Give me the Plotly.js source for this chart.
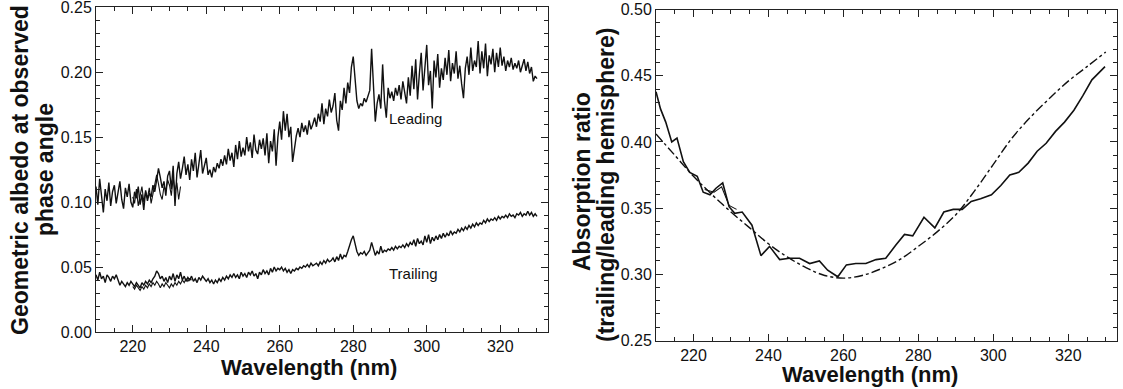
<!DOCTYPE html>
<html>
<head>
<meta charset="utf-8">
<script src="https://cdn.plot.ly/plotly-3.0.1.min.js"></script>
<style>
  html, body { margin: 0; padding: 0; background: #fff; }
  #chart { width: 1123px; height: 389px; }
</style>
</head>
<body>
<div id="chart"></div>
<script>
// Left panel: geometric albedo spectra, sampled every 0.5 nm from 210 nm
const specStart = 210;
const specStep = 0.5;
const leading = [
  0.112, 0.098, 0.118, 0.104, 0.092, 0.110, 0.101, 0.115, 0.097, 0.108,
  0.113, 0.099, 0.109, 0.116, 0.102, 0.095, 0.111, 0.104, 0.114, 0.100,
  0.096, 0.108, 0.103, 0.112, 0.098, 0.106, 0.094, 0.109, 0.101, 0.107,
  0.104, 0.113, 0.108, 0.118, 0.126, 0.119, 0.111, 0.116, 0.105, 0.120,
  0.124, 0.110, 0.128, 0.097, 0.122, 0.131, 0.118, 0.126, 0.135, 0.121,
  0.129, 0.117, 0.133, 0.124, 0.138, 0.119, 0.131, 0.140, 0.122, 0.128,
  0.134, 0.121, 0.125, 0.119, 0.127, 0.123, 0.130, 0.126, 0.133, 0.128,
  0.136, 0.129, 0.141, 0.132, 0.138, 0.127, 0.144, 0.133, 0.147, 0.135,
  0.142, 0.136, 0.150, 0.139, 0.146, 0.134, 0.152, 0.140, 0.137, 0.148,
  0.141, 0.149, 0.136, 0.153, 0.130, 0.147, 0.139, 0.156, 0.128, 0.150,
  0.162, 0.148, 0.170, 0.155, 0.168, 0.150, 0.158, 0.131, 0.142, 0.151,
  0.157, 0.150, 0.161, 0.154, 0.159, 0.152, 0.163, 0.156, 0.160, 0.165,
  0.158, 0.168, 0.162, 0.176, 0.160, 0.172, 0.166, 0.179, 0.169, 0.174,
  0.184, 0.163, 0.155, 0.178, 0.171, 0.188, 0.176, 0.192, 0.184, 0.204,
  0.212, 0.196, 0.178, 0.172, 0.176, 0.174, 0.180, 0.177, 0.182, 0.186,
  0.218, 0.190, 0.162, 0.176, 0.183, 0.172, 0.206, 0.178, 0.165, 0.188,
  0.180, 0.185, 0.178, 0.188, 0.182, 0.190, 0.179, 0.193, 0.184, 0.176,
  0.196, 0.182, 0.205, 0.187, 0.210, 0.179, 0.199, 0.215, 0.186, 0.206,
  0.221, 0.190, 0.201, 0.172, 0.209, 0.196, 0.214, 0.188, 0.203, 0.194,
  0.211, 0.198, 0.217, 0.193, 0.207, 0.199, 0.216, 0.195, 0.205, 0.191,
  0.180, 0.203, 0.212, 0.198, 0.219, 0.201, 0.209, 0.204, 0.224, 0.199,
  0.216, 0.203, 0.222, 0.197, 0.213, 0.206, 0.218, 0.200, 0.215, 0.204,
  0.219, 0.205, 0.212, 0.201, 0.209, 0.204, 0.211, 0.202, 0.207, 0.203,
  0.209, 0.200, 0.206, 0.210, 0.201, 0.208, 0.199, 0.204, 0.193, 0.197,
  0.195
];
const trailing = [
  0.044, 0.040, 0.046, 0.041, 0.043, 0.038, 0.044, 0.042, 0.039, 0.043,
  0.041, 0.044, 0.040, 0.036, 0.039, 0.037, 0.035, 0.038, 0.036, 0.039,
  0.037, 0.035, 0.038, 0.036, 0.034, 0.038, 0.036, 0.039, 0.037, 0.040,
  0.038, 0.041, 0.043, 0.047, 0.045, 0.041, 0.043, 0.039, 0.042, 0.038,
  0.043, 0.040, 0.045, 0.039, 0.044, 0.041, 0.046, 0.040, 0.043, 0.039,
  0.042, 0.040, 0.043, 0.039, 0.041, 0.038, 0.042, 0.040, 0.043, 0.041,
  0.039, 0.041, 0.038, 0.040, 0.037, 0.040, 0.038, 0.041, 0.039, 0.042,
  0.040, 0.043, 0.041, 0.044, 0.042, 0.045, 0.042, 0.044, 0.041, 0.046,
  0.043, 0.045, 0.042, 0.046, 0.044, 0.047, 0.043, 0.045, 0.041, 0.046,
  0.044, 0.048, 0.045, 0.047, 0.044, 0.049, 0.046, 0.050, 0.047, 0.049,
  0.048, 0.050, 0.047, 0.049, 0.046, 0.048, 0.045, 0.048, 0.047, 0.049,
  0.048, 0.050, 0.049, 0.051, 0.050, 0.052, 0.050, 0.053, 0.051, 0.052,
  0.053, 0.051, 0.054, 0.052, 0.055, 0.053, 0.056, 0.054, 0.055, 0.057,
  0.054, 0.058, 0.055, 0.060, 0.056, 0.059, 0.058, 0.062, 0.067, 0.071,
  0.074, 0.068, 0.062, 0.059, 0.061, 0.060, 0.062, 0.059, 0.061, 0.063,
  0.069, 0.064, 0.059, 0.062, 0.060, 0.066, 0.061, 0.063, 0.062, 0.064,
  0.063, 0.065, 0.063, 0.066, 0.064, 0.066, 0.065, 0.067, 0.065, 0.068,
  0.066, 0.069, 0.067, 0.071, 0.066, 0.072, 0.068, 0.070, 0.067, 0.074,
  0.069, 0.075, 0.068, 0.073, 0.070, 0.074, 0.071, 0.075, 0.072, 0.076,
  0.073, 0.076, 0.074, 0.078, 0.075, 0.077, 0.076, 0.079, 0.077, 0.080,
  0.078, 0.081, 0.079, 0.082, 0.080, 0.083, 0.081, 0.084, 0.082, 0.084,
  0.083, 0.086, 0.084, 0.087, 0.085, 0.087, 0.086, 0.088, 0.086, 0.089,
  0.087, 0.089, 0.088, 0.090, 0.088, 0.091, 0.089, 0.090, 0.088, 0.091,
  0.090, 0.092, 0.089, 0.091, 0.090, 0.093, 0.090, 0.092, 0.089, 0.091,
  0.089
];
// Overlapping second exposures in the short-wavelength end
const leadingBStart = 220;
const leadingB = [
  0.104, 0.099, 0.110, 0.097, 0.105, 0.112, 0.100, 0.108, 0.103, 0.111,
  0.099, 0.107, 0.115, 0.121, 0.114, 0.106, 0.102, 0.112, 0.109, 0.117,
  0.113, 0.105, 0.119, 0.108, 0.115, 0.102, 0.112
];
const trailingBStart = 220;
const trailingB = [
  0.035, 0.033, 0.036, 0.034, 0.032, 0.035, 0.033, 0.036, 0.034, 0.037,
  0.035, 0.038, 0.036, 0.039, 0.037, 0.034, 0.037, 0.035, 0.038, 0.036,
  0.034, 0.037, 0.035, 0.038, 0.036, 0.039, 0.037, 0.040, 0.038, 0.041,
  0.039, 0.041, 0.040
];

// Right panel: measured absorption ratio and model curve
const ratioWl = [
  210, 211.2, 212.6, 214.2, 215.6, 217.3, 219, 221, 222.6, 224.4,
  226, 227.8, 229.5, 231, 233, 235.6, 238, 240.3, 243, 245.6,
  248.3, 251, 253.6, 255.8, 258.5, 260.8, 263.3, 266, 268.7, 271.3,
  274, 276.3, 278.5, 281.5, 284.4, 286.8, 289.3, 291.7, 294.1, 296.6,
  299.5, 302, 304.4, 306.8, 309.3, 311.7, 314.1, 316.6, 319, 321.5,
  323.9, 326.3, 329.8
];
const ratioVal = [
  0.438, 0.425, 0.415, 0.400, 0.403, 0.385, 0.377, 0.374, 0.362, 0.360,
  0.365, 0.369, 0.351, 0.346, 0.347, 0.337, 0.314, 0.321, 0.311, 0.312,
  0.312, 0.308, 0.310, 0.303, 0.298, 0.307, 0.308, 0.308, 0.311, 0.312,
  0.322, 0.330, 0.329, 0.343, 0.335, 0.347, 0.349, 0.349, 0.355, 0.357,
  0.360, 0.367, 0.375, 0.377, 0.384, 0.393, 0.399, 0.408, 0.415, 0.424,
  0.435, 0.447, 0.457
];
const ratioBWl = [223, 225.5, 227.5, 229.5, 231.5];
const ratioBVal = [0.364, 0.362, 0.366, 0.352, 0.349];
const modelWl = [
  210, 215, 220, 225, 230, 235, 240, 245, 250, 255, 260, 265, 270,
  275, 280, 285, 290, 295, 300, 305, 310, 315, 320, 325, 330
];
const modelVal = [
  0.406, 0.390, 0.374, 0.360, 0.347, 0.335, 0.323, 0.313, 0.305, 0.299,
  0.297, 0.299, 0.304, 0.311, 0.321, 0.332, 0.345, 0.363, 0.383, 0.403,
  0.419, 0.433, 0.446, 0.457, 0.468
];

const xTickVals = [220, 240, 260, 280, 300, 320];
const albedoTicks = [0.00, 0.05, 0.10, 0.15, 0.20, 0.25];
const ratioTicks = [0.25, 0.30, 0.35, 0.40, 0.45, 0.50];

const wl = (start, n) => Array.from({length: n}, (_, i) => start + i * specStep);

const INK = '#111';
const FONT = 'Liberation Sans, Arial, Helvetica, sans-serif';

const traces = [
  {x: wl(specStart, leading.length), y: leading, xaxis: 'x', yaxis: 'y',
   mode: 'lines', line: {color: INK, width: 1.4}},
  {x: wl(leadingBStart, leadingB.length), y: leadingB, xaxis: 'x', yaxis: 'y',
   mode: 'lines', line: {color: INK, width: 1.1}},
  {x: wl(specStart, trailing.length), y: trailing, xaxis: 'x', yaxis: 'y',
   mode: 'lines', line: {color: INK, width: 1.4}},
  {x: wl(trailingBStart, trailingB.length), y: trailingB, xaxis: 'x', yaxis: 'y',
   mode: 'lines', line: {color: INK, width: 1.1}},
  {x: ratioWl, y: ratioVal, xaxis: 'x2', yaxis: 'y2',
   mode: 'lines', line: {color: INK, width: 1.6}},
  {x: ratioBWl, y: ratioBVal, xaxis: 'x2', yaxis: 'y2',
   mode: 'lines', line: {color: INK, width: 1.1}},
  {x: modelWl, y: modelVal, xaxis: 'x2', yaxis: 'y2',
   mode: 'lines', line: {color: INK, width: 1.4, dash: 'dashdot', shape: 'spline'}}
];

const W = 1123, H = 389;
const px = v => v / W;
const py = v => 1 - v / H;

function frameAxis(extra) {
  return Object.assign({
    showline: true, linecolor: '#222', linewidth: 1, mirror: 'ticks',
    ticks: 'inside', ticklen: 7, tickwidth: 1, tickcolor: '#222',
    showgrid: false, zeroline: false, fixedrange: true,
    ticklabeloverflow: 'allow',
    tickfont: {family: FONT, size: 16, color: '#111'}
  }, extra);
}

function label(text, x, y, size, angle) {
  return {text: text, xref: 'paper', yref: 'paper', x: px(x), y: py(y),
    xanchor: 'center', yanchor: 'middle', textangle: angle || 0,
    showarrow: false, font: {family: FONT, size: size, color: '#111'}};
}

const layout = {
  width: W, height: H,
  margin: {l: 0, r: 0, t: 0, b: 0},
  paper_bgcolor: '#fff', plot_bgcolor: '#fff',
  showlegend: false,
  xaxis: frameAxis({domain: [px(96), px(548)], range: [210, 333], anchor: 'y',
    tickvals: xTickVals, minor: {dtick: 5, tick0: 200, ticks: 'inside', ticklen: 4, tickcolor: '#222'}}),
  yaxis: frameAxis({domain: [py(332), py(7)], range: [0, 0.2502], anchor: 'x',
    tickvals: albedoTicks, tickformat: '.2f',
    minor: {dtick: 0.01, tick0: 0, ticks: 'inside', ticklen: 4, tickcolor: '#222'}}),
  xaxis2: frameAxis({domain: [px(656), px(1117)], range: [210, 333], anchor: 'y2',
    tickvals: xTickVals, minor: {dtick: 5, tick0: 200, ticks: 'inside', ticklen: 4, tickcolor: '#222'}}),
  yaxis2: frameAxis({domain: [py(340.5), py(9.5)], range: [0.2498, 0.5002], anchor: 'x2',
    tickvals: ratioTicks, tickformat: '.2f',
    minor: {dtick: 0.01, tick0: 0.25, ticks: 'inside', ticklen: 4, tickcolor: '#222'}}),
  annotations: [
    label('<b>Wavelength (nm)</b>', 309, 367, 22),
    label('<b>Wavelength (nm)</b>', 870, 374, 22),
    label('<b>Geometric albedo at observed</b>', 20, 170, 23, -90),
    label('<b>phase angle</b>', 45, 170, 23, -90),
    label('<b>Absorption ratio</b>', 582, 182, 23, -90),
    label('<b>(trailing/leading hemisphere)</b>', 606, 185, 23, -90),
    {text: 'Leading', xref: 'x', yref: 'y', x: 297, y: 0.1646, xanchor: 'center', yanchor: 'middle',
     showarrow: false, font: {family: FONT, size: 15, color: '#111'}},
    {text: 'Trailing', xref: 'x', yref: 'y', x: 296.3, y: 0.045, xanchor: 'center', yanchor: 'middle',
     showarrow: false, font: {family: FONT, size: 15, color: '#111'}}
  ]
};

Plotly.newPlot('chart', traces, layout, {staticPlot: true, displayModeBar: false});
</script>
</body>
</html>
